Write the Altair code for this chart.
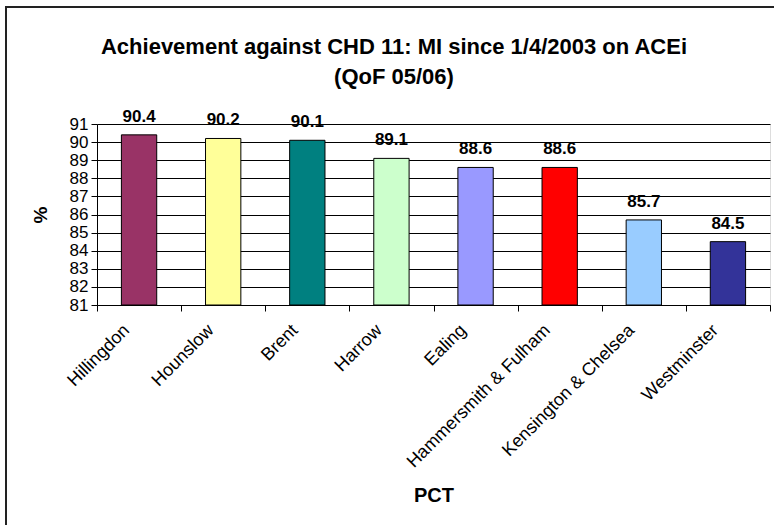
import altair as alt
import pandas as pd

# PCT achievement figures (QoF 05/06)
pcts = ["Hillingdon", "Hounslow", "Brent", "Harrow", "Ealing",
        "Hammersmith & Fulham", "Kensington & Chelsea", "Westminster"]
values = [90.4, 90.2, 90.1, 89.1, 88.6, 88.6, 85.7, 84.5]
colors = ["#993366", "#FFFF99", "#008080", "#CCFFCC", "#9999FF",
          "#FF0000", "#99CCFF", "#333399"]
y_ticks = list(range(81, 92))
title_lines = ["Achievement against CHD 11: MI since 1/4/2003 on ACEi", "(QoF 05/06)"]

df = pd.DataFrame({"PCT": pcts, "value": values, "color": colors})
title_df = pd.DataFrame({"heading": ["\n".join(title_lines)]})

FONT = "Liberation Sans"

x = alt.X("PCT:N", sort=pcts, title="PCT",
          scale=alt.Scale(paddingInner=0, paddingOuter=0),
          axis=alt.Axis(labelAngle=-45, labelFontSize=18, labelColor="black",
                        labelPadding=10, labelOffset=-19, labelFont=FONT,
                        labelLimit=400,
                        tickBand="extent", tickColor="black", tickSize=6,
                        domainColor="black",
                        titleFontSize=20, titleFontWeight="bold", titleColor="black",
                        titleFont=FONT, titleY=190, titleBaseline="middle"))
y = alt.Y("value:Q", title="%",
          scale=alt.Scale(domain=[81, 91], zero=False, nice=False),
          axis=alt.Axis(values=y_ticks, labelFontSize=17, labelColor="black",
                        labelOverlap=False, labelFlush=False, labelFont=FONT,
                        tickColor="black", tickSize=6, labelPadding=3,
                        domainColor="black",
                        gridColor="black", gridWidth=1,
                        titleFontSize=19, titleFontWeight="bold", titleColor="black",
                        titleFont=FONT, titlePadding=19))

bars = alt.Chart(df).mark_bar(
    width=alt.RelativeBandSize(0.42), stroke="black", strokeWidth=1
).encode(
    x=x, y=y, y2=alt.datum(81),
    color=alt.Color("color:N", scale=None),
)

labels = alt.Chart(df).mark_text(
    fontSize=17, fontWeight="bold", baseline="alphabetic", dy=-13, color="black", font=FONT
).encode(
    x=x,
    y=y,
    text=alt.Text("value:Q", format=".1f"),
)

# two-line chart heading, centred over the frame
heading = alt.Chart(title_df).mark_text(
    fontSize=22, fontWeight="bold", color="black", font=FONT,
    baseline="alphabetic", align="center", lineBreak="\n", lineHeight=30, clip=False,
).encode(
    x=alt.value(297),
    y=alt.value(-70),
    text="heading:N",
)

# outer chart frame
frame = alt.Chart(df.head(1)).mark_rect(
    fill=None, stroke="#222222", strokeWidth=2, clip=False
).encode(
    x=alt.value(-91), x2=alt.value(700),
    y=alt.value(-117), y2=alt.value(420),
)

chart = alt.layer(bars, labels, heading, frame).properties(
    width=673, height=181,
    autosize=alt.AutoSizeParams(type="none"),
    padding={"left": 97, "top": 124, "right": 4, "bottom": 220},
    background="white",
).configure_view(
    fill="#C0C0C0", stroke="#808080", strokeWidth=1
).configure(font=FONT)

chart.save("out.html", embed_options={"renderer": "svg", "actions": False})
